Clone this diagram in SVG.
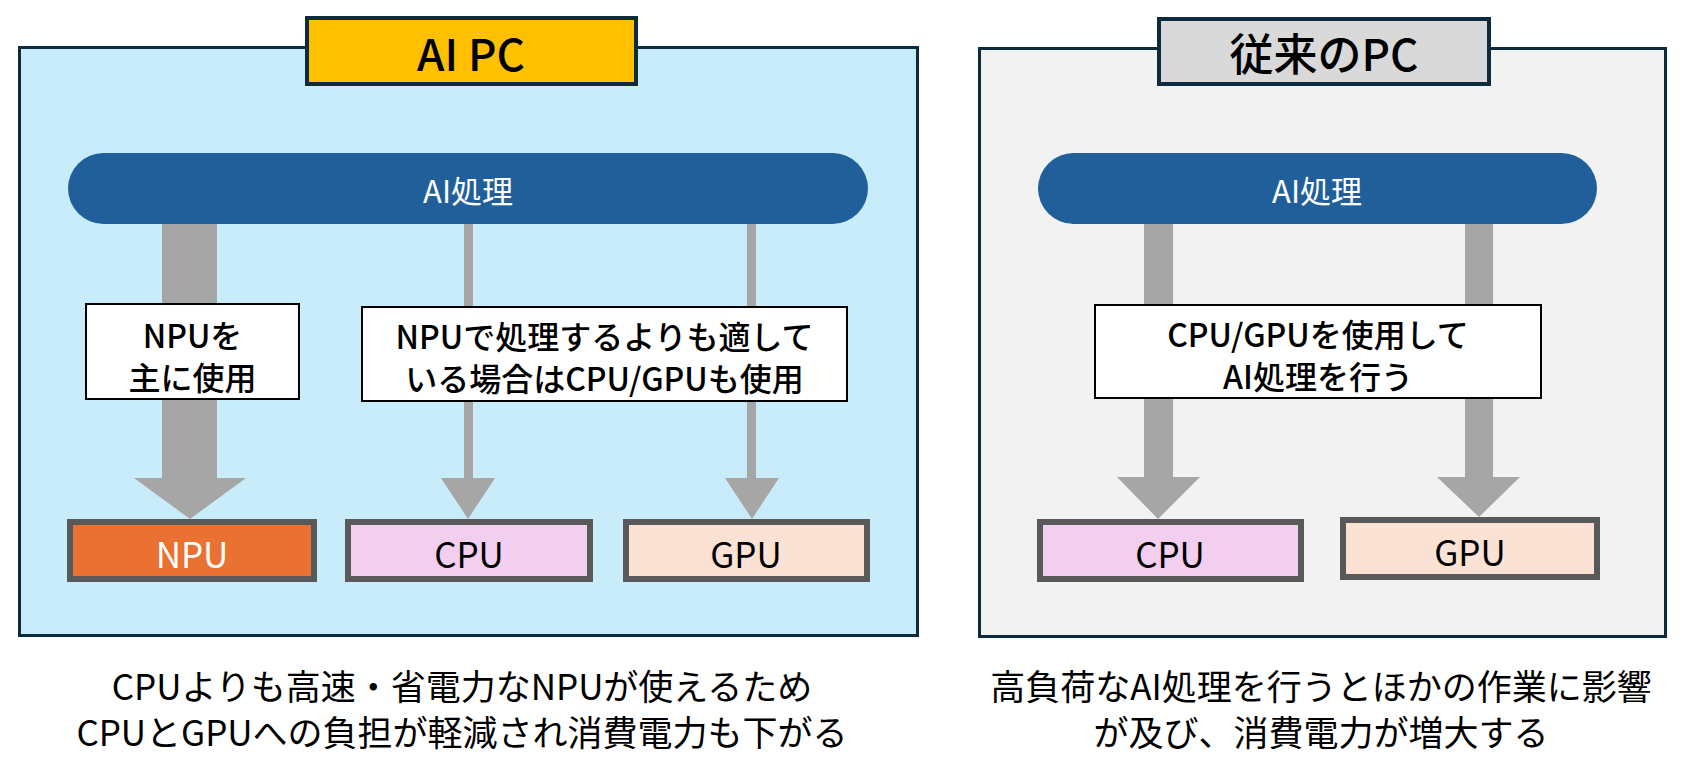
<svg xmlns="http://www.w3.org/2000/svg" width="1684" height="761" viewBox="0 0 1684 761">
<style>
text{font-family:"Noto Sans CJK JP","Noto Sans",sans-serif;text-anchor:middle;dominant-baseline:central}
.panel{stroke:#0D2B3E;stroke-width:3}
.title{stroke:#0D2B3E;stroke-width:4}
.tt{font-size:44px;font-weight:500;fill:#000}
.pill{fill:#215F9A}
.pt{font-size:31px;fill:#fff}
.arr{fill:#A6A6A6}
.lbl{fill:#fff;stroke:#000;stroke-width:2}
.lt{font-size:32px;font-weight:500;fill:#000}
.box{stroke:#595959;stroke-width:6}
.bt{font-size:35px;fill:#000}
.cap{font-size:35px;fill:#000}
</style>
<rect width="1684" height="761" fill="#fff"/>
<g id="panel-ai"><rect class="panel" x="19.5" y="47.5" width="898" height="588" fill="#C9ECFB"/></g>
<g id="panel-old"><rect class="panel" x="979.5" y="48.5" width="686" height="588" fill="#F2F2F2"/></g>
<g id="title-ai"><rect class="title" x="307" y="18" width="329" height="66" fill="#FFC000"/><text class="tt" x="471" y="52">AI PC</text></g>
<g id="title-old"><rect class="title" x="1159" y="19" width="330" height="65" fill="#D9D9D9"/><text class="tt" x="1324" y="52">従来のPC</text></g>
<g id="pill-ai"><rect class="pill" x="68" y="153" width="800" height="71" rx="35.5"/><text class="pt" x="468" y="189">AI処理</text></g>
<g id="pill-old"><rect class="pill" x="1038" y="153" width="559" height="71" rx="35.5"/><text class="pt" x="1317" y="189">AI処理</text></g>
<g id="connectors">
<polygon class="arr" points="162,224 217,224 217,478 246,478 190,519 134,478 162,478"/>
<polygon class="arr" points="464,224 473,224 473,478 495,478 468,519 441,478 464,478"/>
<polygon class="arr" points="747,224 756,224 756,478 779,478 752,519 725,478 747,478"/>
<polygon class="arr" points="1144,224 1173,224 1173,477 1200,477 1158,519 1117,477 1144,477"/>
<polygon class="arr" points="1465,224 1493,224 1493,477 1520,477 1479,517 1437,477 1465,477"/>
</g>
<g id="label-npu"><rect class="lbl" x="86" y="304" width="213" height="95"/><text class="lt" x="192.5" y="334">NPUを</text><text class="lt" x="192.5" y="376">主に使用</text></g>
<g id="label-cpugpu"><rect class="lbl" x="362" y="307" width="485" height="94"/><text class="lt" x="604.5" y="335">NPUで処理するよりも適して</text><text class="lt" x="604.5" y="377">いる場合はCPU/GPUも使用</text></g>
<g id="label-old"><rect class="lbl" x="1095" y="305" width="446" height="93"/><text class="lt" x="1318" y="333">CPU/GPUを使用して</text><text class="lt" x="1318" y="375">AI処理を行う</text></g>
<g id="npu"><rect class="box" x="70" y="522" width="244" height="57" fill="#E97132"/><text class="bt" x="192" y="552" style="fill:#fff">NPU</text></g>
<g id="cpu-ai"><rect class="box" x="348" y="522" width="242" height="57" fill="#F2CEEF"/><text class="bt" x="469" y="552">CPU</text></g>
<g id="gpu-ai"><rect class="box" x="626" y="522" width="241" height="57" fill="#FBE2D5"/><text class="bt" x="746" y="552">GPU</text></g>
<g id="cpu-old"><rect class="box" x="1040" y="522" width="261" height="57" fill="#F2CEEF"/><text class="bt" x="1170" y="552">CPU</text></g>
<g id="gpu-old"><rect class="box" x="1343" y="520" width="254" height="57" fill="#FBE2D5"/><text class="bt" x="1470" y="550">GPU</text></g>
<g id="caption-ai"><text class="cap" x="462" y="684">CPUよりも高速・省電力なNPUが使えるため</text><text class="cap" x="462" y="730">CPUとGPUへの負担が軽減され消費電力も下がる</text></g>
<g id="caption-old"><text class="cap" x="1321" y="684">高負荷なAI処理を行うとほかの作業に影響</text><text class="cap" x="1321" y="730">が及び、消費電力が増大する</text></g>
</svg>
